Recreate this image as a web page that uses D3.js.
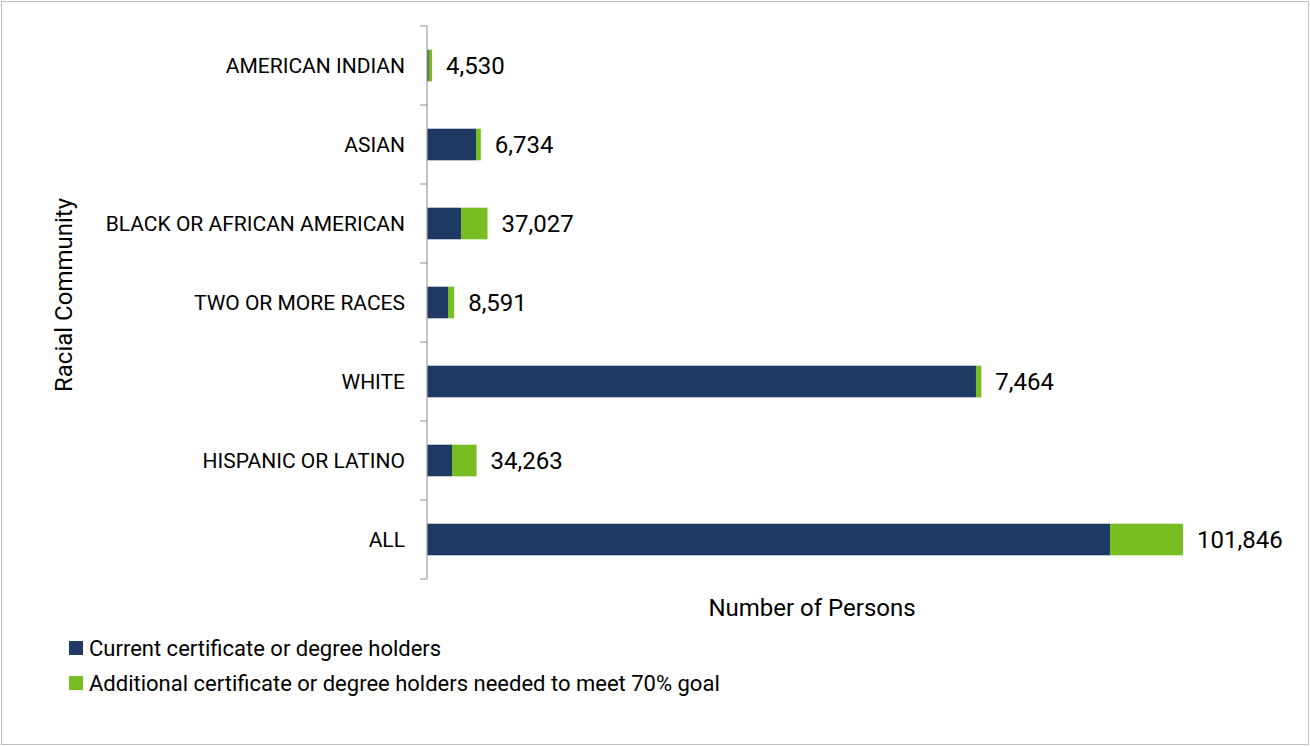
<!DOCTYPE html>
<html>
<head>
<meta charset="utf-8">
<script src="https://cdn.jsdelivr.net/npm/d3@7"></script>
<style>
    body { margin: 0; background: #fff; }
    svg text { font-family: Roboto, "Liberation Sans", sans-serif; fill: #000; }
</style>
</head>
<body>
<div id="chart"></div>
<script>
// categories, top to bottom
var categories = ["AMERICAN INDIAN", "ASIAN", "BLACK OR AFRICAN AMERICAN", "TWO OR MORE RACES", "WHITE", "HISPANIC OR LATINO", "ALL"];
// current certificate or degree holders
var currentHolders = [2500, 68400, 47400, 29300, 766000, 34900, 953000];
// additional holders needed to meet 70% goal (labelled)
var additionalNeeded = [4530, 6734, 37027, 8591, 7464, 34263, 101846];
var seriesNames = ["Current certificate or degree holders", "Additional certificate or degree holders needed to meet 70% goal"];
var seriesColors = ["#1f3864", "#78be20"];

var width = 1310, height = 746;

var svg = d3.select("#chart").append("svg")
    .attr("width", width)
    .attr("height", height);

// chart border
svg.append("rect")
    .attr("x", 1.5).attr("y", 1.5)
    .attr("width", width - 3).attr("height", height - 3)
    .attr("fill", "#fff")
    .attr("stroke", "#c0c0c0")
    .attr("stroke-width", 1);

var plot = {left: 427, right: 1287, top: 26, bottom: 579};

var x = d3.scaleLinear().domain([0, 1200000]).range([plot.left, plot.right]);
var y = d3.scaleBand().domain(categories).range([plot.top, plot.bottom])
    .paddingInner(0.6).paddingOuter(0.3);

var rows = categories.map(function(c, i) {
    return {name: c, cur: currentHolders[i], add: additionalNeeded[i]};
});

// stacked bars
var stacked = d3.stack().keys(["cur", "add"])(rows);

svg.selectAll(".series")
    .data(stacked)
    .enter().append("g")
    .attr("fill", function(d, i) { return seriesColors[i]; })
    .selectAll("rect")
    .data(function(d) { return d; })
    .enter().append("rect")
    .attr("x", function(d) { return x(d[0]); })
    .attr("y", function(d) { return y(d.data.name); })
    .attr("width", function(d) { return x(d[1]) - x(d[0]); })
    .attr("height", y.bandwidth());

// value axis line + boundary ticks
var axisG = svg.append("g").attr("stroke", "#a6a6a6").attr("stroke-width", 1.3);
axisG.append("line")
    .attr("x1", plot.left).attr("x2", plot.left)
    .attr("y1", plot.top).attr("y2", plot.bottom);
axisG.selectAll(".tick")
    .data(d3.range(categories.length + 1))
    .enter().append("line")
    .attr("x1", plot.left - 7).attr("x2", plot.left)
    .attr("y1", function(i) { return plot.top + i * y.step(); })
    .attr("y2", function(i) { return plot.top + i * y.step(); });

// category labels
svg.selectAll(".cat")
    .data(categories)
    .enter().append("text")
    .attr("x", 405)
    .attr("y", function(d) { return y(d) + y.bandwidth() / 2; })
    .attr("dy", "0.35em")
    .attr("text-anchor", "end")
    .style("font-size", "21px")
    .text(function(d) { return d; });

// data labels (additional needed)
svg.selectAll(".lbl")
    .data(rows)
    .enter().append("text")
    .attr("x", function(d) { return x(d.cur + d.add) + 14; })
    .attr("y", function(d) { return y(d.name) + y.bandwidth() / 2; })
    .attr("dy", "0.36em")
    .style("font-size", "24px")
    .text(function(d) { return d3.format(",")(d.add); });

// axis titles
svg.append("text")
    .attr("x", 812).attr("y", 616)
    .attr("text-anchor", "middle")
    .style("font-size", "24px")
    .text("Number of Persons");

svg.append("text")
    .attr("transform", "translate(72,295) rotate(-90)")
    .attr("text-anchor", "middle")
    .style("font-size", "24px")
    .text("Racial Community");

// legend
var legend = svg.selectAll(".legend")
    .data(seriesNames)
    .enter().append("g")
    .attr("transform", function(d, i) { return "translate(69," + (648 + i * 35) + ")"; });

legend.append("rect")
    .attr("x", 0).attr("y", -7)
    .attr("width", 14).attr("height", 14)
    .attr("fill", function(d, i) { return seriesColors[i]; });

legend.append("text")
    .attr("x", 20)
    .attr("dy", "0.35em")
    .style("font-size", "22px")
    .text(function(d) { return d; });
</script>
</body>
</html>
